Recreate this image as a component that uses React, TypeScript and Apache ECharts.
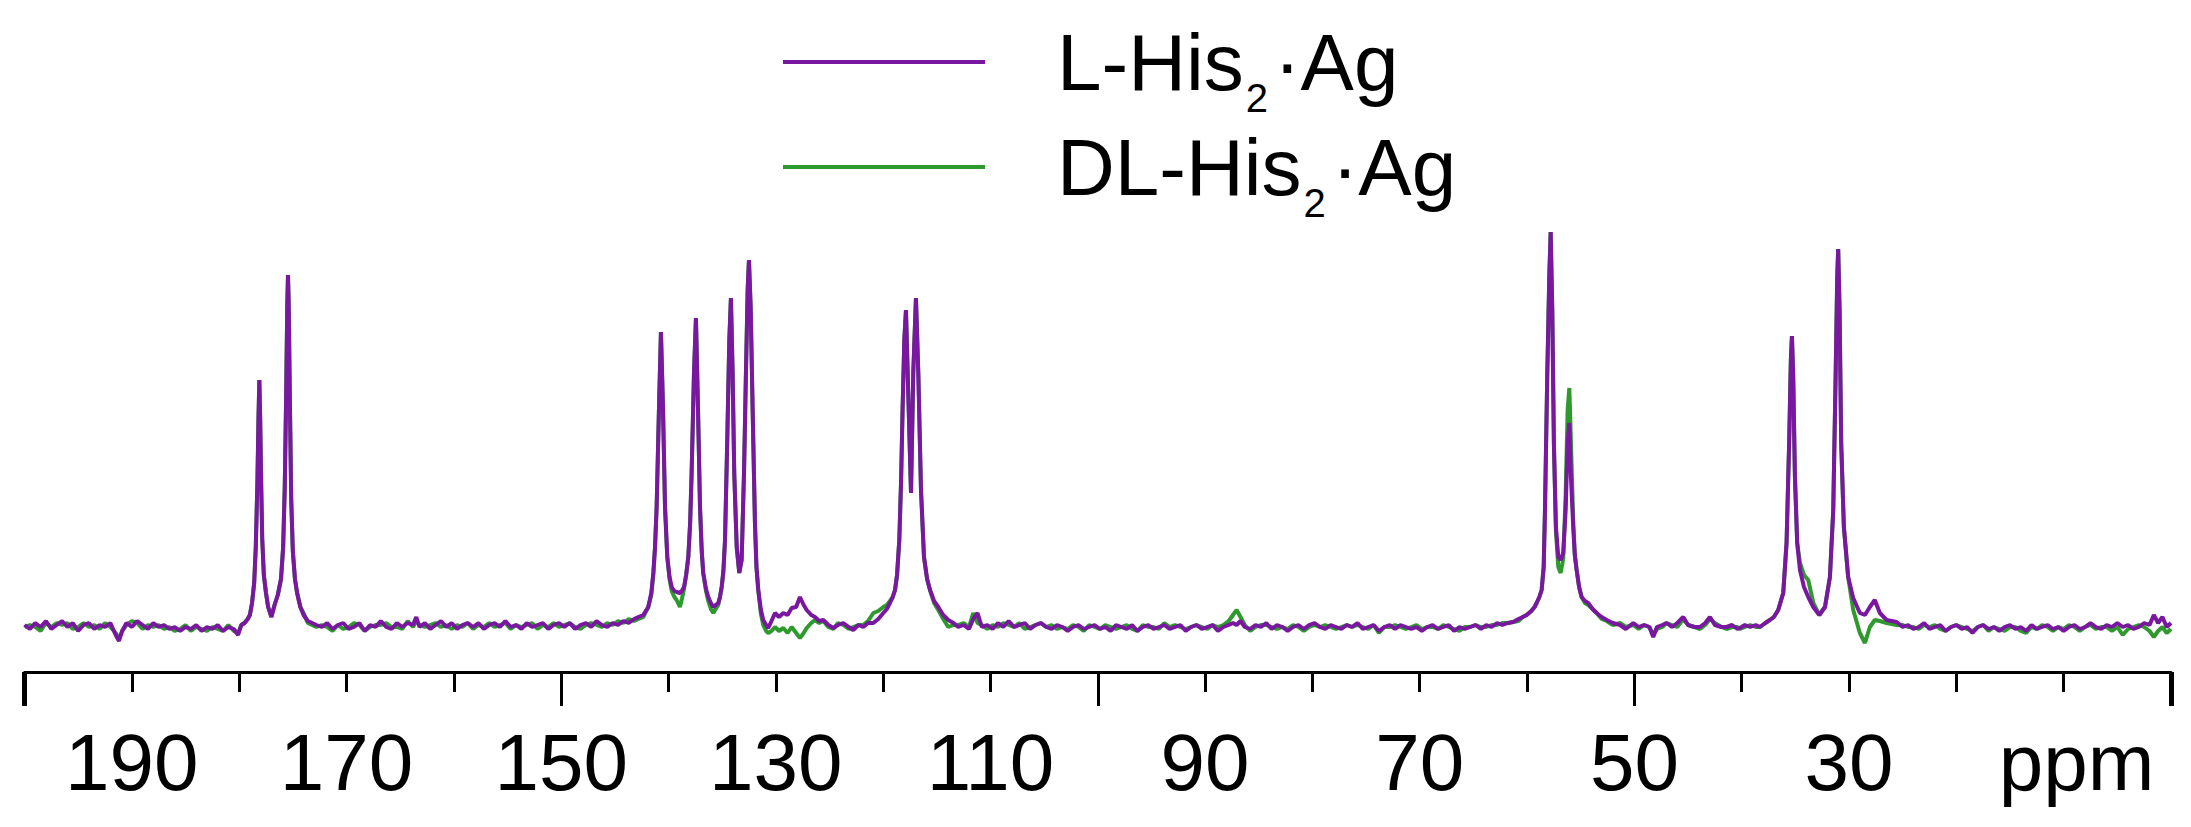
import React, { useEffect, useRef } from "react";
import * as echarts from "echarts";

// Rows: [ppm, L-His2·Ag intensity, DL-His2·Ag intensity]
const baselineLow: number[][] = [
  [200.0, 0.5, 0], [199.5, -0.5, 0.5], [199.0, 1, 0], [198.5, 0, -1], [198.0, 1.5, 1],
  [197.5, -0.5, 0], [197.0, 0.5, 1], [196.5, 1.5, 0.5], [196.0, 0, 1], [195.5, 1, -0.5],
  [195.0, -1, 0], [194.5, 0.5, 1], [194.0, 1, 0], [193.5, -0.5, 0.5], [193.0, 0.5, -0.5],
  [192.5, 0, 1], [192.0, 1, 0], [191.5, -2, -1.5], [191.2, -3.5, -3], [190.9, -1, -1],
  [190.5, 1, 0.5], [190.0, 0, 1.5], [189.5, 1.5, 1], [189.0, 0.5, -0.5], [188.5, -0.5, 0.5],
  [188.0, 1, 0], [187.5, 0, 0.5], [187.0, 0.5, -0.5], [186.5, -0.5, 0], [186.0, 0, -1],
  [185.5, -1, -0.5], [185.0, 0, 0.5], [184.5, -0.5, -1], [184.0, 0.5, 0], [183.5, -1, -0.5],
  [183.0, 0, -1], [182.5, -0.5, 0], [182.0, 0.5, -0.5], [181.5, -1, -1], [181.0, 0, 0.5],
  [180.5, -0.5, -1], [180.1, -2, -1.5], [179.8, 0.5, 0.5],
];

const carbonylPeaks: number[][] = [
  [179.5, 1, 1], [179.2, 2, 2], [179.0, 3, 3], [178.8, 6, 6], [178.6, 11, 11],
  [178.45, 20, 20], [178.3, 36, 36], [178.2, 52, 52], [178.12, 61.75, 61.75], [178.04, 52, 52],
  [177.95, 36, 36], [177.85, 22, 22], [177.7, 13, 13], [177.5, 8.5, 8.5], [177.3, 5, 5],
  [177.0, 2.5, 2.5], [176.7, 5.5, 5.5], [176.4, 8, 8], [176.1, 12, 12], [175.9, 20, 20],
  [175.75, 35, 35], [175.62, 58, 58], [175.52, 80, 80], [175.45, 88, 88], [175.38, 80, 80],
  [175.28, 58, 58], [175.15, 32, 32], [175.0, 19, 19], [174.8, 12, 12], [174.6, 8.5, 8.5],
  [174.3, 5, 5], [174.0, 3, 3.5], [173.6, 1.5, 1], [173.2, 1, 0.5],
];

const baselineAromatic: number[][] = [
  [172.8, 0.5, 0], [172.3, 0, 0.5], [171.8, 1, 0], [171.3, -0.5, -1], [170.8, 0.5, 0.5],
  [170.3, 1, -0.5], [169.8, -0.5, 0], [169.3, 0, 1], [168.8, 1, 0.5], [168.3, -1, -1],
  [167.8, 0.5, 0], [167.3, 0, 0.5], [166.8, 1.5, 0.5], [166.3, 0, 1], [165.8, -0.5, 0],
  [165.3, 1, 0], [164.8, 0, -0.5], [164.3, 1, 1.5], [163.8, 0.5, 0], [163.5, 2.5, 1.5],
  [163.2, 0, 0.5], [162.7, 1, 0], [162.2, -0.5, 0.5], [161.7, 0.5, 1], [161.2, 1.5, 0],
  [160.7, 0, 0.5], [160.2, 1, -0.5], [159.7, -0.5, 0.5], [159.2, 0.5, 0], [158.7, 1, 1],
  [158.2, 0, -0.5], [157.7, 1, 0.5], [157.2, -0.5, 0], [156.7, 0.5, 1], [156.2, 1, 0],
  [155.7, 0, 0.5], [155.2, 1.5, 1], [154.7, 0, -0.5], [154.2, 0.5, 0.5], [153.7, -0.5, 0],
  [153.2, 1, 0.5], [152.7, 0, 1], [152.2, 0.5, -0.5], [151.7, 1, 0.5], [151.2, -0.5, 0],
  [150.7, 0.5, 1], [150.2, 1, 0], [149.7, 0, 0.5], [149.2, 1, 1], [148.7, -0.5, 0],
  [148.2, 0.5, -0.5], [147.7, 1, 0.5], [147.2, 0, 1], [146.7, 1.5, 0.5], [146.2, 0.5, 0],
  [145.7, 0, 1], [145.2, 1, 0.5], [144.7, 0.5, 1.5], [144.2, 1.5, 1], [143.7, 1, 2],
  [143.2, 2, 1.5], [142.8, 2.5, 2], [142.35, 3, 2.5],
];

const imidazolePeaks: number[][] = [
  [141.88, 5, 5], [141.6, 8.5, 8], [141.41, 13.5, 13], [141.25, 20, 20], [141.1, 30, 30],
  [140.88, 55, 55], [140.7, 73.75, 73.75], [140.51, 55, 55], [140.32, 30, 30], [140.11, 17.5, 17.5],
  [139.9, 12.5, 12], [139.7, 10, 9], [139.45, 9, 7.5], [139.24, 8.75, 6.75], [138.93, 8.5, 5],
  [138.75, 9, 7], [138.55, 10, 9.5], [138.35, 13, 13], [138.15, 17.5, 17.5], [137.98, 26, 26],
  [137.84, 38.5, 38.5], [137.62, 63.5, 63.5], [137.44, 77.25, 77.25], [137.25, 55, 55], [137.06, 30, 30],
  [136.9, 19, 19], [136.76, 13.5, 13.5], [136.5, 9.5, 9], [136.29, 7.5, 6.5], [136.05, 6, 4.5],
  [135.82, 5, 3.5], [135.6, 5.5, 4.5], [135.36, 6, 5.5], [135.2, 7.5, 7.5], [135.04, 10, 10],
  [134.88, 14, 14], [134.73, 21.75, 21.75], [134.52, 46.75, 46.75], [134.33, 71.75, 71.75], [134.18, 82.25, 82.25],
  [134.02, 63.5, 63.5], [133.87, 38.5, 38.5], [133.64, 20, 20], [133.4, 13.5, 13.5], [133.18, 16.75, 16.75],
  [132.96, 38.5, 38.5], [132.78, 63.5, 63.5], [132.62, 84.25, 84.25], [132.5, 91.75, 91.75], [132.34, 80, 80],
  [132.16, 55, 55], [131.94, 26, 26], [131.8, 15, 15], [131.63, 9.25, 9.25], [131.4, 4.5, 3.5],
  [131.17, 1.75, 0.5], [130.9, 0.5, -1], [130.7, -0.25, -1.5], [130.4, 1.5, -1], [130.07, 3.5, 0],
  [129.7, 2.5, -1], [129.3, 3.5, -0.25], [128.9, 3, -1.5], [128.52, 4.75, 0], [128.1, 5, -1.5],
  [127.75, 7.5, -2.75], [127.4, 5.5, -1.5], [127.12, 4.25, -0.25], [126.7, 3, 1], [126.35, 2.5, 1.75],
  [125.95, 1.5, 1], [125.57, 1.75, 1.5], [125.1, 0.5, 0], [124.64, -0.25, -0.5], [124.2, 0.5, 1],
  [123.71, 1, 0.5], [123.2, 0, -0.5], [122.78, -0.75, 0], [122.3, 0.5, 0.5], [121.85, 0, 0.5],
  [121.4, 1, 1.5], [120.91, 1, 3.5], [120.45, 2, 4], [119.98, 3.5, 5], [119.65, 4.5, 5.5],
  [119.36, 6, 6.5], [119.1, 7.5, 7.5], [118.89, 9.25, 9.25], [118.7, 13, 13], [118.49, 21.75, 21.75],
  [118.33, 36, 36], [118.18, 55, 55], [118.02, 72, 72], [117.87, 79.25, 79.25], [117.62, 55, 55],
  [117.4, 33.5, 33.5], [117.19, 63.5, 63.5], [116.94, 82.25, 82.25], [116.72, 63.5, 63.5], [116.47, 34.25, 34.25],
  [116.19, 17.5, 17.5], [115.9, 12, 12], [115.63, 9.25, 9.25], [115.25, 6.5, 6], [114.86, 5, 4.25],
  [114.4, 3, 2], [113.93, 1.75, 0], [113.45, 1, 0.5], [113.0, 0, 0.5],
];

const baselineMiddle: number[][] = [
  [112.5, 0.5, 1], [112.0, -0.5, 0], [111.6, 2, 3.5], [111.2, 3.5, 1], [110.8, 0, 0.5],
  [110.3, 0.5, -0.5], [109.8, -0.5, 0.5], [109.3, 1, 0], [108.8, 0, 1], [108.3, 1.5, 0.5],
  [107.8, 0, 0], [107.3, 0.5, 1], [106.8, 1, -0.5], [106.3, -0.5, 0], [105.8, 0.5, 0.5],
  [105.3, 1, 1], [104.8, 0, 0], [104.3, -0.5, 0.5], [103.8, 0.5, -0.5], [103.3, 0, 0],
  [102.8, -1, -0.5], [102.3, 0, 0.5], [101.8, 0.5, 0], [101.3, -0.5, -1], [100.8, 0, 0.5],
  [100.3, 0.5, 0], [99.8, -0.5, -0.5], [99.3, 0, 0.5], [98.8, -1, 0], [98.3, 0.5, -0.5],
  [97.8, 0, 0], [97.3, -0.5, 0.5], [96.8, 0.5, -0.5], [96.3, -1, -1], [95.8, 0, 0.5],
  [95.3, 0.5, 0], [94.8, -0.5, 0], [94.3, 0, -0.5], [93.8, 0.5, 1], [93.3, -0.5, 0],
  [92.8, 0, 0.5], [92.3, 0.5, 0], [91.8, -1, -0.5], [91.3, 0, 0], [90.8, 0.5, 0.5],
  [90.3, -0.5, 0], [89.8, 0, -0.5], [89.3, 0.5, 0.5], [88.8, -1, 0], [88.3, 0, 0.5],
  [87.8, 0.5, 1.5], [87.4, 1, 3], [87.06, 0.5, 4.25], [86.7, 1.5, 2.5], [86.3, 0, 0.5],
  [85.8, -0.5, -1], [85.3, 0.5, 0], [84.8, 0, 0.5], [84.3, 1, 0.5], [83.8, -0.5, 0],
  [83.3, 0.5, -0.5], [82.8, 0, 0], [82.3, -1, -0.5], [81.8, 0, 0.5], [81.3, 0.5, 0],
  [80.8, -0.5, -1], [80.3, 0.5, 0], [79.8, 1, 0.5], [79.3, 0, 0], [78.8, -0.5, 0.5],
  [78.3, 0.5, 0], [77.8, 0, -0.5], [77.3, -0.5, 0], [76.8, 0.5, 0.5], [76.3, 0, 0],
  [75.8, 1, 0.5], [75.3, -0.5, 0], [74.8, 0, -0.5], [74.3, 0.5, 0.5], [73.8, -1, -1.5],
  [73.3, 0, 0], [72.8, 0.5, 0], [72.3, -0.5, 0.5], [71.8, 0.5, 0], [71.3, 0, -0.5],
  [70.8, -0.5, 0], [70.3, 0, 0.5], [69.8, -1, -0.5], [69.3, 0, 0], [68.8, 0.5, 0],
  [68.3, -0.5, -0.5], [67.8, 0, 0.5], [67.3, 0.5, 0], [66.8, -1, -0.5], [66.3, 0, -1],
  [65.8, -0.5, 0], [65.3, 0, 0], [64.8, 0.5, 0.5], [64.3, -0.5, 0], [63.8, 0.5, 0],
  [63.3, 0, 0.5], [62.8, 1, 0.5], [62.3, 0.5, 1],
];

const aliphaticPeaks: number[][] = [
  [61.8, 1, 1], [61.29, 1.25, 1.25], [60.8, 2, 1.5], [60.4, 2.5, 2.5], [60.04, 3, 3],
  [59.6, 4, 4], [59.3, 5, 5], [59.11, 6, 6], [58.85, 7.5, 7.5], [58.64, 9.25, 9.25],
  [58.45, 15, 15], [58.33, 29.25, 29.25], [58.12, 62.5, 62.5], [57.93, 87.5, 87.5], [57.8, 98.75, 98.75],
  [57.65, 79.25, 79.25], [57.5, 46, 46], [57.31, 25, 24], [57.09, 17.5, 15], [56.87, 16.75, 13.5],
  [56.63, 18.5, 17], [56.4, 29.25, 33.5], [56.22, 46, 54.25], [56.06, 51, 59.75], [55.91, 37.5, 46],
  [55.7, 25, 26.75], [55.55, 18, 18], [55.38, 14.25, 14.25], [55.15, 10, 10], [54.92, 7.5, 7.5],
  [54.6, 6.5, 6], [54.3, 6, 5.5], [53.9, 4.5, 4.5], [53.52, 3.5, 3.5], [53.05, 2.5, 2],
  [52.58, 1.75, 1.5], [52.0, 1, 0.5], [51.34, 0.5, 1], [50.8, -0.5, 0], [50.1, 1, 0.5],
  [49.6, 0, -0.5], [49.1, 0.5, 0.5], [48.6, 0, 0], [48.24, -2.5, -2], [47.9, 0, -0.5],
  [47.4, 0.5, 0], [47.0, 1, 1], [46.5, 0, 0.5], [46.0, 1, 0], [45.45, 2.5, 2],
  [45.0, 0.5, 0.5], [44.4, 0, 0], [43.89, 0, -0.5], [43.4, 1, 0.5], [42.96, 2.5, 2],
  [42.5, 0.5, 1], [41.9, 0, 0], [41.41, 0, -0.5], [40.9, 0.5, 0], [40.4, -0.5, 0],
  [40.17, -0.25, -0.5], [39.7, 0.5, 0], [39.2, 0, 0.5], [38.7, 0.5, 0], [38.3, 0, 0],
  [37.8, 1, 1], [37.38, 1.75, 1.75], [37.0, 2.5, 2.5], [36.6, 4.25, 4.25], [36.13, 8.5, 8.5],
  [35.82, 21, 21], [35.58, 46, 46], [35.42, 66.75, 66.75], [35.32, 72.75, 72.75], [35.2, 62.5, 62.5],
  [35.04, 37.5, 37.5], [34.83, 21, 21], [34.57, 14.25, 16], [34.2, 10, 13], [33.8, 7.5, 11.75],
  [33.33, 5, 6], [32.77, 3, 3], [32.24, 5, 5], [31.78, 12.5, 12.5], [31.47, 29.25, 29.25],
  [31.25, 62.5, 62.5], [31.1, 87.5, 87.5], [31.01, 94.5, 94.5], [30.88, 79.25, 79.25], [30.73, 46, 46],
  [30.48, 25, 25], [30.08, 12.5, 12.5], [29.61, 7.25, 4.25], [28.99, 3.5, -1.5], [28.52, 3, -4],
  [28.06, 5, 0], [27.6, 6.75, 1.75], [27.13, 3.5, 1.5], [26.5, 1.75, 1], [25.57, 1.25, 0.5],
];

const baselineHighField: number[][] = [
  [25.0, 0, 0.5], [24.5, 0.5, 0], [24.0, -0.5, 0], [23.5, 0, -0.5], [23.0, 1, 0.5],
  [22.5, -0.5, 0], [22.0, 0, 0.5], [21.5, 0.5, -0.5], [21.0, -1, -1], [20.5, 0, 0],
  [20.0, 0.5, 0.5], [19.5, -0.5, 0], [19.0, 0, -0.5], [18.5, -1.5, -1], [18.0, 0, 0],
  [17.5, 0.5, 0.5], [17.0, -0.5, -1], [16.5, 0, 0], [16.0, -1, -0.5], [15.5, 0, -1],
  [15.0, 0.5, 0], [14.5, -0.5, 0], [14.0, 0, -1], [13.5, -1, -1.5], [13.0, 0.5, 0],
  [12.5, -0.5, -0.5], [12.0, 0, 0.5], [11.5, 0.5, 0], [11.0, -0.5, -1], [10.5, 0, 0],
  [10.0, -1, -0.5], [9.5, 0, 0.5], [9.0, 0.5, 0], [8.5, -0.5, -1], [8.0, 0, 0],
  [7.5, 1, 0.5], [7.0, 0, -0.5], [6.5, -0.5, 0], [6.0, 0.5, 0], [5.5, 0, -1],
  [5.0, 1, 0], [4.5, 0, -2], [4.0, 0.5, -0.5], [3.5, -0.5, 0], [3.0, 0, 0.5],
  [2.5, 1, 0], [2.0, 0.5, -1], [1.6, 3, -2.5], [1.2, 1, -1], [0.8, 2.5, 0],
  [0.4, 0, -1.5], [0.0, 1, -0.5],
];

const labeledTicks: number[] = [190, 170, 150, 130, 110, 90, 70, 50, 30];
const unitTick = 10;
const unitLabel = "ppm";

const seriesNames: string[] = ["L-His\u2082\u00B7Ag", "DL-His\u2082\u00B7Ag"];
const legendParts: string[][] = [
  ["L-His", "2", "\u00B7Ag"],
  ["DL-His", "2", "\u00B7Ag"],
];

const spectrumRows: number[][] = [
  ...baselineLow,
  ...carbonylPeaks,
  ...baselineAromatic,
  ...imidazolePeaks,
  ...baselineMiddle,
  ...aliphaticPeaks,
  ...baselineHighField,
];

const lHisData = spectrumRows.map((r) => [r[0], r[1]]);
const dlHisData = spectrumRows.map((r) => [r[0], r[2]]);

const PURPLE = "#7A17A0";
const GREEN = "#2E9A2E";
const FONT = '"Liberation Sans", Arial, Helvetica, sans-serif';

export default function App() {
  const ref = useRef<HTMLDivElement>(null);

  useEffect(() => {
    if (!ref.current) return;
    const chart = echarts.init(ref.current, null, { renderer: "svg" });
    const tickStyle = { color: "#000", width: 3 };
    chart.setOption({
      animation: false,
      backgroundColor: "#ffffff",
      textStyle: { fontFamily: FONT },
      grid: {
        left: 24.5,
        right: 20,
        top: 227,
        bottom: 155,
        containLabel: false,
        outerBoundsMode: "none",
      },
      legend: {
        orient: "vertical",
        left: 783,
        top: 22,
        padding: 0,
        itemGap: 9,
        itemWidth: 202,
        itemHeight: 4,
        icon: "rect",
        selectedMode: false,
        data: [seriesNames[0], seriesNames[1]],
        formatter: (name: string) => {
          const parts = legendParts[seriesNames.indexOf(name)];
          return `{first|${parts[0]}}{sub|${parts[1]}}{rest|${parts[2]}}`;
        },
        textStyle: {
          fontFamily: FONT,
          color: "#000",
          rich: {
            first: {
              fontFamily: FONT,
              fontSize: 80,
              lineHeight: 112,
              color: "#000",
              padding: [0, 0, 0, 67],
            },
            sub: {
              fontFamily: FONT,
              fontSize: 40,
              lineHeight: 30,
              verticalAlign: "bottom",
              color: "#000",
              padding: [0, 6, 0, 2],
            },
            rest: {
              fontFamily: FONT,
              fontSize: 80,
              lineHeight: 112,
              color: "#000",
            },
          },
        },
      },
      xAxis: [
        {
          type: "value",
          min: 0,
          max: 200,
          interval: 10,
          inverse: true,
          position: "bottom",
          axisLine: { show: true, onZero: false, lineStyle: { color: "#000", width: 3 } },
          axisTick: { show: true, length: 20, lineStyle: tickStyle },
          splitLine: { show: false },
          axisLabel: {
            show: true,
            margin: 50,
            fontSize: 80,
            fontFamily: FONT,
            color: "#000",
            formatter: (v: number) => {
              if (v === unitTick) return `{u|${unitLabel}}`;
              return labeledTicks.indexOf(v) >= 0 ? String(v) : "";
            },
            rich: {
              u: { fontSize: 80, fontFamily: FONT, color: "#000", padding: [0, 0, 0, 26] },
            },
          },
        },
        {
          type: "value",
          min: 0,
          max: 200,
          interval: 50,
          inverse: true,
          position: "bottom",
          offset: 0,
          axisLine: { show: false, onZero: false },
          axisTick: { show: true, length: 34, lineStyle: tickStyle },
          axisLabel: { show: false },
          splitLine: { show: false },
        },
        {
          type: "value",
          min: 0,
          max: 200,
          interval: 200,
          inverse: true,
          position: "bottom",
          offset: 0,
          axisLine: { show: false, onZero: false },
          axisTick: { show: true, length: 34, lineStyle: { color: "#000", width: 5 } },
          axisLabel: { show: false },
          splitLine: { show: false },
        },
      ],
      yAxis: {
        type: "value",
        min: -11.25,
        max: 100,
        show: false,
        splitLine: { show: false },
      },
      series: [
        {
          name: seriesNames[1],
          type: "line",
          xAxisIndex: 0,
          data: dlHisData,
          showSymbol: false,
          symbol: "none",
          silent: true,
          lineStyle: { color: GREEN, width: 4 },
          itemStyle: { color: GREEN },
        },
        {
          name: seriesNames[0],
          type: "line",
          xAxisIndex: 0,
          data: lHisData,
          showSymbol: false,
          symbol: "none",
          silent: true,
          lineStyle: { color: PURPLE, width: 4 },
          itemStyle: { color: PURPLE },
        },
      ],
    });
    return () => chart.dispose();
  }, []);

  return (
    <div
      ref={ref}
      style={{
        position: "fixed",
        left: 0,
        top: 0,
        width: 2191,
        height: 827,
        background: "#ffffff",
      }}
    />
  );
}
